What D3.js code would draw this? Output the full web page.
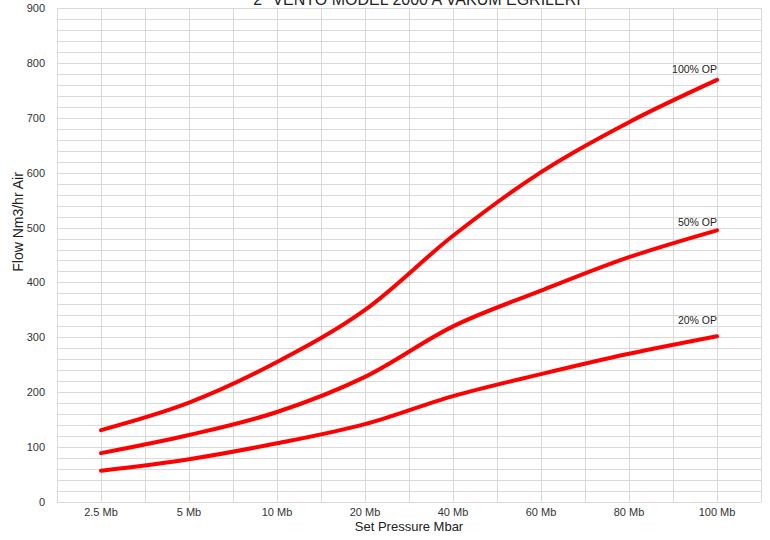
<!DOCTYPE html>
<html><head><meta charset="utf-8">
<script src="https://cdn.jsdelivr.net/npm/d3@7"></script>
<style>body{margin:0;background:#fff}svg{display:block;font-family:"Liberation Sans",Arial,sans-serif}</style>
</head><body>
<svg id="c" width="770" height="540"></svg>
<script>
const categories = ["2.5 Mb","5 Mb","10 Mb","20 Mb","40 Mb","60 Mb","80 Mb","100 Mb"];
const op100 = [131,181,255,350,485,601,692,769];
const op50  = [89,122,164,228,320,385,446,495];
const op20  = [57,78,107,142,193,233,270,302];
const seriesNames = ["100% OP","50% OP","20% OP"];
const yTicks = [0,100,200,300,400,500,600,700,800,900];
const title = "2\" VENTO MODEL 2000 A VAKUM EGRILERI";
const xTitle = "Set Pressure Mbar";
const yTitle = "Flow Nm3/hr Air";

const labelOffsets = [-7, -4, -12];

const svg = d3.select("#c");
const L=57,R=761,T=8,B=502;
const x = d3.scaleBand().domain(categories).range([L,R]).padding(0);
const y = d3.scaleLinear().domain([0,900]).range([B,T]);
const grid = svg.append("g").attr("stroke","#d9d9d9").attr("stroke-width",1);
d3.range(0,901,20).forEach(v=>{
  grid.append("line").attr("x1",L).attr("x2",R).attr("y1",Math.round(y(v))+0.5).attr("y2",Math.round(y(v))+0.5);
});
const vx=[];
categories.forEach(c=>{vx.push(x(c));vx.push(x(c)+x.bandwidth()/2);});
vx.push(R);
vx.forEach(v=>{
  grid.append("line").attr("x1",Math.round(v)+0.5).attr("x2",Math.round(v)+0.5).attr("y1",T).attr("y2",B);
});
const yAxis = d3.axisLeft(y).tickValues(yTicks).tickSize(0).tickPadding(12);
const ya = svg.append("g").attr("transform",`translate(${L},0)`).call(yAxis);
ya.select(".domain").remove();
ya.selectAll("text").attr("font-size",11).attr("fill","#333").attr("font-family","Liberation Sans, Arial, sans-serif");
const xAxis = d3.axisBottom(x).tickSize(0).tickPadding(6);
const xa = svg.append("g").attr("transform",`translate(0,${B})`).call(xAxis);
xa.select(".domain").remove();
xa.selectAll("text").attr("font-size",11).attr("fill","#333").attr("font-family","Liberation Sans, Arial, sans-serif");

const line = d3.line().x((d,i)=>x(categories[i])+x.bandwidth()/2).y(d=>y(d)).curve(d3.curveMonotoneX);
const all=[op100,op50,op20];
all.forEach((s,k)=>{
  svg.append("path").datum(s).attr("d",line).attr("fill","none").attr("stroke","#ff0000").attr("stroke-width",4).attr("stroke-linecap","round");
  const last=s[s.length-1];
  svg.append("text").attr("x",x(categories[7])+x.bandwidth()/2).attr("y",y(last)+labelOffsets[k]).attr("text-anchor","end")
    .attr("font-size",10.5).attr("fill","#222").text(seriesNames[k]);
});
svg.append("text").attr("x",(L+R)/2+8).attr("y",5).attr("text-anchor","middle").attr("font-size",16).attr("fill","#222").text(title);
svg.append("text").attr("x",(L+R)/2).attr("y",531).attr("text-anchor","middle").attr("font-size",13).attr("fill","#222").text(xTitle);
svg.append("text").attr("transform","translate(23,222) rotate(-90)").attr("text-anchor","middle").attr("font-size",14).attr("fill","#222").text(yTitle);
</script>
</body></html>
